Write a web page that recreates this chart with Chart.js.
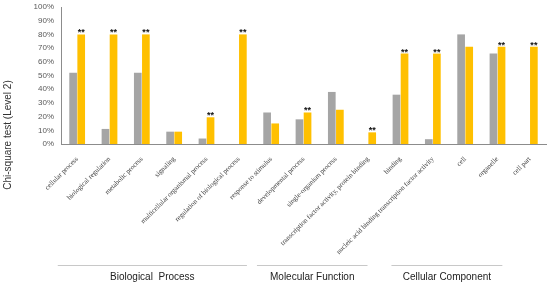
<!DOCTYPE html>
<html>
<head>
<meta charset="utf-8">
<script src="https://cdn.jsdelivr.net/npm/chart.js@4"></script>
<style>
  html, body { margin: 0; padding: 0; background: #fff; }
  #wrap { width: 550px; height: 287px; position: relative; }
</style>
</head>
<body>
<div id="wrap"><canvas id="myChart"></canvas></div>
<script>
const categories = [
    "cellular process", "biological regulation", "metabolic process", "signaling",
    "multicellular organismal process", "regulation of biological process",
    "response to stimulus", "developmental process", "single-organism process",
    "transcription factor activity, protein binding", "binding",
    "nucleic acid binding transcription factor activity", "cell", "organelle", "cell part"
];
const grayValues = [52, 11, 52, 9, 4, 0, 23, 18, 38, 0, 36, 3.5, 80, 66, 0];
const yellowValues = [80, 80, 80, 9, 19.5, 80, 15, 23, 25, 8.5, 66, 66, 71, 71, 71];
const significant = [true, true, true, false, true, true, false, true, false, true, true, true, false, true, true];
const yTitle = "Chi-square test (Level 2)";
// group brackets, in category units
const groups = [
    { label: "Biological  Process", from: -0.6, to: 5.25 },
    { label: "Molecular Function", from: 5.56, to: 8.98 },
    { label: "Cellular Component", from: 9.72, to: 13.15 },
];

const starsPlugin = {
    id: "stars",
    afterDatasetsDraw: (chart) => {
        const ctx = chart.ctx;
        const meta = chart.getDatasetMeta(1);
        ctx.save();
        ctx.fillStyle = "#111";
        ctx.font = "bold 9px 'Liberation Sans', Arial";
        ctx.textAlign = "center";
        ctx.textBaseline = "bottom";
        meta.data.forEach((bar, i) => {
            if (significant[i]) ctx.fillText("**", bar.x, bar.y + 3);
        });
        ctx.restore();
    },
};

const groupPlugin = {
    id: "groups",
    afterDraw: (chart) => {
        const ctx = chart.ctx;
        const xs = chart.scales.x;
        const step = xs.getPixelForValue(1) - xs.getPixelForValue(0);
        const x0 = xs.getPixelForValue(0);
        ctx.save();
        groups.forEach((g) => {
            const a = x0 + g.from * step;
            const b = x0 + g.to * step;
            ctx.strokeStyle = "#c8c8c8";
            ctx.lineWidth = 1;
            ctx.beginPath();
            ctx.moveTo(a, 265.5);
            ctx.lineTo(b, 265.5);
            ctx.stroke();
            ctx.fillStyle = "#222";
            ctx.font = "10px 'Liberation Sans', Arial";
            ctx.textAlign = "center";
            ctx.textBaseline = "middle";
            ctx.fillText(g.label, (a + b) / 2, 277);
        });
        // y axis title, centred lower like the original
        ctx.translate(8.5, 135);
        ctx.rotate(-Math.PI / 2);
        ctx.fillStyle = "#333";
        ctx.font = "10px 'Liberation Sans', Arial";
        ctx.fillText(yTitle, 0, 0);
        ctx.restore();
    },
};

var ctx = document.getElementById("myChart").getContext("2d");
var chart = new Chart(ctx, {
    type: "bar",
    data: {
        labels: categories,
        datasets: [
            {
                data: grayValues,
                backgroundColor: "#a5a5a5",
                categoryPercentage: 0.5,
                barPercentage: 0.95,
            },
            {
                data: yellowValues,
                backgroundColor: "#ffc000",
                categoryPercentage: 0.5,
                barPercentage: 0.95,
            },
        ],
    },
    options: {
        responsive: true,
        maintainAspectRatio: false,
        animation: false,
        layout: {
            padding: { top: 7, right: 4, left: 0, bottom: 0 },
        },
        plugins: {
            legend: { display: false },
            tooltip: { enabled: false },
        },
        scales: {
            x: {
                grid: { display: false },
                border: { display: true, color: "#8c8c8c", width: 1 },
                ticks: {
                    autoSkip: false,
                    minRotation: 45,
                    maxRotation: 45,
                    padding: 3,
                    color: "#404040",
                    font: { family: "'Liberation Serif', 'Times New Roman', serif", size: 7 },
                },
                afterFit: (scale) => {
                    scale.height = 143;
                },
            },
            y: {
                min: 0,
                max: 100,
                grid: { display: false, drawTicks: false },
                border: { display: true, color: "#8c8c8c", width: 1 },
                ticks: {
                    stepSize: 10,
                    padding: 7,
                    color: "#595959",
                    font: { family: "'Liberation Sans', Arial", size: 8 },
                    callback: (v) => v + "%",
                },
                afterFit: (scale) => {
                    scale.width = 61;
                    scale.paddingTop = 0;
                    scale.paddingBottom = 0;
                },
            },
        },
    },
    plugins: [starsPlugin, groupPlugin],
});
</script>
</body>
</html>
